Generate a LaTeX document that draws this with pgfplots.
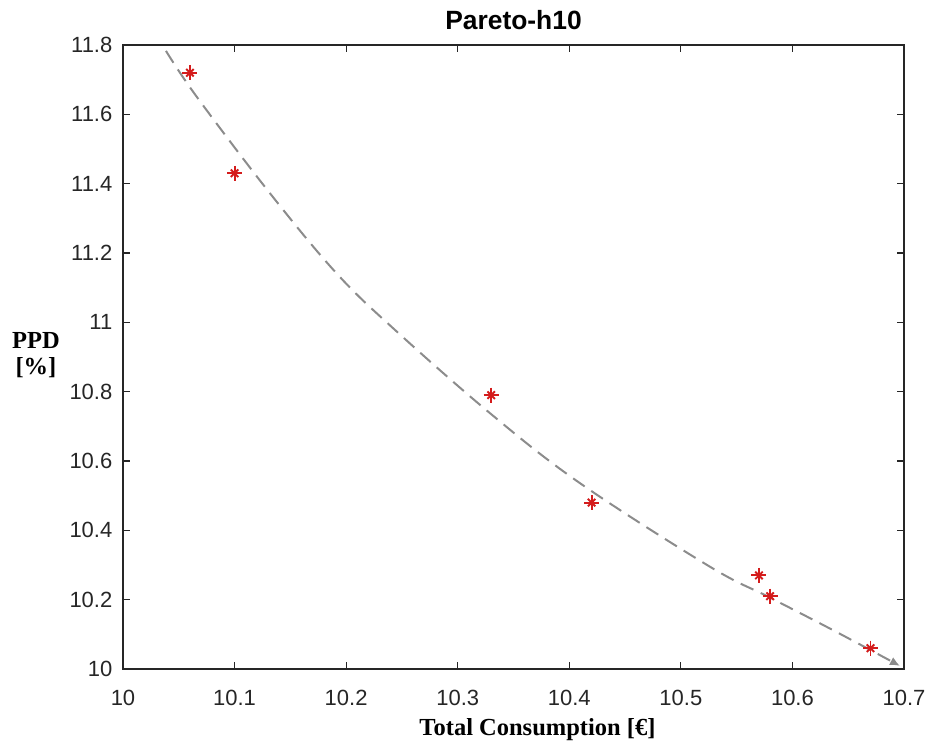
\documentclass[border=0pt]{standalone}
\usepackage{fontspec}
\setmainfont{Liberation Sans}
\newfontfamily\timesfont{Liberation Serif}
\usepackage{pgfplots}
\usepackage{pgfplotstable}
\pgfplotsset{compat=1.18}
\usetikzlibrary{arrows.meta}

\definecolor{axgray}{HTML}{262626}
\definecolor{fitgray}{HTML}{8C8C8C}
\definecolor{ptred}{HTML}{D41C1C}

% pareto points
\pgfplotstableread{
x     y
10.06 11.72
10.10 11.43
10.33 10.79
10.42 10.48
10.57 10.27
10.58 10.21
10.67 10.06
}\pareto

% fitted front
\pgfplotstableread{
x       y
10.0385 11.783
10.066  11.651
10.1318 11.372
10.1915 11.141
10.2438 10.978
10.3289 10.738
10.4096 10.536
10.5261 10.295
10.5799 10.206
10.6364 10.112
10.6964 10.009
}\fit

\begin{document}
\begin{tikzpicture}
\useasboundingbox (-61.5pt,-40pt) rectangle (403pt,334.5pt);
\begin{axis}[
    at={(0,0)}, anchor=south west,
    scale only axis,
    width=390.5pt, height=312pt,
    xmin=10, xmax=10.7, ymin=10, ymax=11.8,
    xtick={10,10.1,10.2,10.3,10.4,10.5,10.6,10.7},
    ytick={10,10.2,10.4,10.6,10.8,11,11.2,11.4,11.6,11.8},
    tick pos=both, tick align=inside,
    major tick length=3.5pt,
    axis line style={axgray, line width=0.6pt},
    tick style={axgray, line width=0.6pt},
    /pgf/number format/assume math mode=true,
    ticklabel style={font=\fontsize{11}{13}\selectfont, text=axgray},
    yticklabel style={xshift=-1.8pt},
    xticklabel style={yshift=-6.8pt},
    title={Pareto-h10},
    title style={at={(axis description cs:0.5,1.021)}, anchor=center,
        font=\fontsize{13.2}{15}\selectfont\bfseries},
    xlabel={Total Consumption [€]},
    xlabel style={at={(axis description cs:0.5307,-0.0978)}, anchor=center,
        font=\timesfont\bfseries\fontsize{12.25}{14}\selectfont},
    ylabel={PPD\\{[\%]}},
    ylabel style={rotate=-90, at={(axis description cs:-0.1114,0.503)}, anchor=center,
        align=center, font=\timesfont\bfseries\fontsize{12.25}{13}\selectfont},
    clip=false,
]
\addplot[fitgray, line width=1pt, dash pattern=on 7pt off 4pt, smooth, tension=0.6,
    -{Latex[length=5pt,width=4.5pt]}] table {\fit};
\addplot[only marks, mark=+, mark size=3.75pt, ptred,
    mark options={line width=0.95pt}] table {\pareto};
\addplot[only marks, mark=x, mark size=2.65pt, ptred,
    mark options={line width=0.95pt}] table {\pareto};
\end{axis}
\end{tikzpicture}
\end{document}
